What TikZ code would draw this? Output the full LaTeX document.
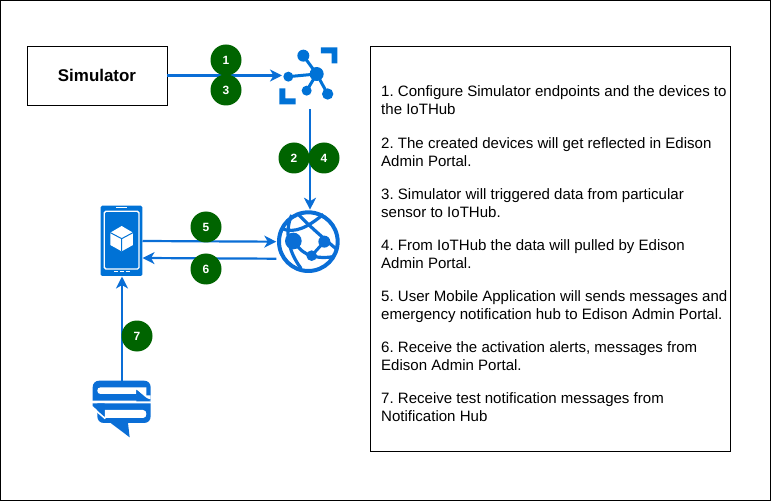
\documentclass[tikz,border=0pt]{standalone}
\usepackage{fontspec}
\setmainfont{Liberation Sans}
\usetikzlibrary{arrows.meta}
\definecolor{azure}{HTML}{0A6ED6}
\definecolor{iconblue}{HTML}{0072D6}
\definecolor{badgegreen}{HTML}{006400}
\tikzset{
  frame/.style={draw=black,line width=0.9bp,fill=white},
  badge/.style={circle,fill=badgegreen,text=white,inner sep=0pt,minimum size=31bp,font=\fontsize{12}{14}\selectfont\bfseries},
  link/.style={draw=azure,line width=2.2bp,-{Stealth[length=12bp,width=12bp,inset=3.5bp]}},
  iconbox/.style={inner sep=0pt,outer sep=0pt},
  note/.style={anchor=north west,inner sep=0pt,align=left,font=\fontsize{15.1}{18}\selectfont\frenchspacing}
}
\begin{document}
\begin{tikzpicture}[x=1bp,y=-1bp]
\useasboundingbox (0,0) rectangle (771,501);
\draw[black,line width=1bp] (0.5,0.5) rectangle (770.5,500.5);
\node[frame,minimum width=140bp,minimum height=59bp,inner sep=0pt,font=\fontsize{17}{18}\selectfont\bfseries] (sim) at (97,75.5) {Simulator};
\node[frame,minimum width=360bp,minimum height=405bp,inner sep=0pt] (notes) at (550.5,248.5) {};
% icon anchors
\node[iconbox,minimum width=56bp,minimum height=63bp] (hub) at (310,78) {};
\node[iconbox,minimum width=42bp,minimum height=71bp] (phone) at (121.5,241) {};
\node[iconbox,minimum width=64bp,minimum height=64bp] (web) at (308.3,241.7) {};
\node[iconbox,minimum width=57bp,minimum height=58bp] (nhub) at (122,410) {};
% IoT hub icon
\begin{scope}[shift={(260,30)},x=0.3333bp,y=-0.3333bp,iconblue]
  \fill (183,52)--(232,52)--(232,100)--(215,100)--(215,70)--(183,70)--cycle;
  \fill (58,175)--(76,175)--(76,205)--(107,205)--(107,223)--(58,223)--cycle;
  \draw[line width=3bp] (130,77)--(170,132)--(85,140) (170,132)--(140,182) (170,132)--(203,192);
  \fill (170,132) circle[radius=21];
  \fill (130,77) circle[radius=18];
  \fill (85,140) circle[radius=15];
  \fill (140,182) circle[radius=15];
  \fill (203,192) circle[radius=17];
\end{scope}
% phone icon
\begin{scope}[shift={(80,190)},x=0.3333bp,y=-0.3333bp]
  \fill[iconblue,rounded corners=1.5bp] (62,47) rectangle (187,258);
  \draw[white,line width=1.3bp,rounded corners=1.5bp] (73,64) rectangle (177,237);
  \draw[white,line width=1bp] (108,54)--(140,54);
  \draw[white,line width=1bp] (103,245)--(115,245) (120,245)--(132,245) (137,245)--(149,245);
  \fill[white] (125,108)--(159,128)--(159,165)--(125,184)--(91,165)--(91,128)--cycle;
  \draw[iconblue,line width=1bp] (91,128)--(125,146)--(159,128) (125,146)--(125,184);
\end{scope}
% web app icon
\begin{scope}[shift={(265,195)},x=0.3333bp,y=-0.3333bp,azure]
  \draw[line width=4bp] (130,140) circle[radius=88];
  \draw[line width=3.2bp] (80,60) .. controls (58,110) and (70,170) .. (108,220);
  \draw[line width=3.2bp] (48,100) .. controls (90,118) and (130,95) .. (175,58);
  \draw[line width=3.2bp] (100,58) .. controls (130,90) and (170,125) .. (214,162);
  \draw[line width=3.2bp] (85,138) .. controls (105,165) and (120,178) .. (140,182) .. controls (165,190) and (185,188) .. (205,185);
  \draw[line width=3bp] (178,140)--(140,182);
  \fill (85,138) circle[radius=25];
  \fill (178,140) circle[radius=18];
  \fill (140,182) circle[radius=16];
\end{scope}
% notification hub icon
\begin{scope}[shift={(88,378)},x=0.3333bp,y=-0.3333bp,azure]
  % upper bubble
  \fill (14,68)--(14,28) .. controls (14,16) and (22,8) .. (34,8)--(168,8) .. controls (180,8) and (188,16) .. (188,28)--(188,68)--cycle;
  \fill[white] (38,28)--(175,28)--(175,60)--(145,35)--(145,48)--(38,48) .. controls (31,48) and (28,44) .. (28,38) .. controls (28,32) and (31,28) .. (38,28)--cycle;
  \fill[white] (145,52)--(188,52)--(188,64)--cycle;
  \fill (145,35)--(188,70)--(145,70)--cycle;
  % lower bubble
  \fill (28,90)--(28,115) .. controls (28,127) and (36,135) .. (48,135)--(68,135)--(125,178)--(120,135)--(168,135) .. controls (180,135) and (188,127) .. (188,115)--(188,76)--(28,76)--cycle;
  \fill[white] (50,96)--(165,96) .. controls (172,96) and (175,102) .. (175,108) .. controls (175,115) and (172,120) .. (165,120)--(50,120)--cycle;
  \draw[white,line width=1.6bp] (14,89)--(52,122);
  \fill (14,76)--(50,76)--(50,115)--(14,84)--cycle;
\end{scope}
% connectors
\coordinate (hubin) at (sim.east -| hub.west);
\draw[link] (sim.east) -- (hubin);
\draw[link] (hub.south) -- (hub.south |- web.north);
\draw[link] (phone.east) -- (web.west);
\draw[link] ([yshift=-17bp]web.west) -- ([yshift=-17bp]phone.east);
\draw[link] (nhub.north) -- (nhub.north |- phone.south);
% badges
\node[badge] (b1) at (226,60) {1};
\node[badge] (b3) at (226,90) {3};
\node[badge] (b2) at (294,158) {2};
\node[badge] (b4) at (324,158) {4};
\node[badge] (b5) at (206,227) {5};
\node[badge] (b6) at (206,269) {6};
\node[badge] (b7) at (137,336) {7};
% notes
\node[note] (n1) at (381,85.5) {1. Configure Simulator endpoints and the devices to\\the IoTHub};
\node[note] (n2) at (381,137) {2. The created devices will get reflected in Edison\\Admin Portal.};
\node[note] (n3) at (381,188) {3. Simulator will triggered data from particular\\sensor to IoTHub.};
\node[note] (n4) at (381,239) {4. From IoTHub the data will pulled by Edison\\Admin Portal.};
\node[note] (n5) at (381,290) {5. User Mobile Application will sends messages and\\emergency notification hub to Edison Admin Portal.};
\node[note] (n6) at (381,341) {6. Receive the activation alerts, messages from\\Edison Admin Portal.};
\node[note] (n7) at (381,392) {7. Receive test notification messages from\\Notification Hub};
\end{tikzpicture}
\end{document}
